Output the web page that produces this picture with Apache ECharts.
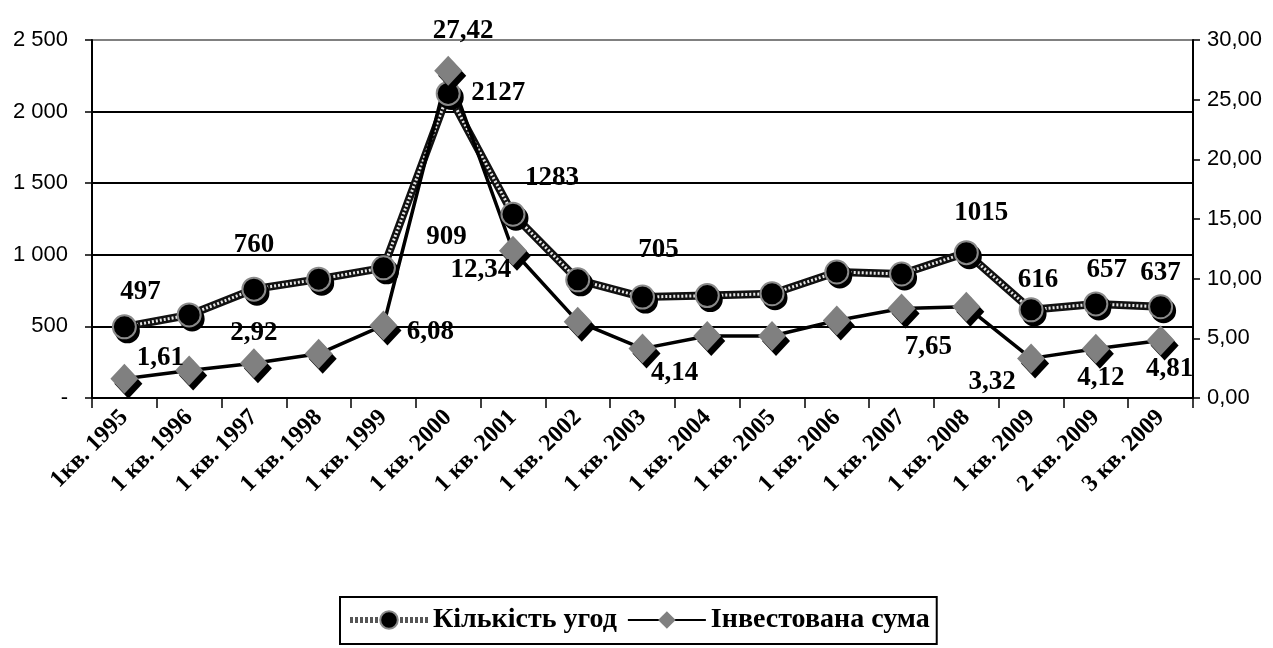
<!DOCTYPE html>
<html><head><meta charset="utf-8">
<script src="https://cdn.jsdelivr.net/npm/echarts@6/dist/echarts.min.js"></script>
<style>html,body{margin:0;padding:0;background:#fff}#c{width:1273px;height:648px}</style>
</head><body><div id="c"></div>
<script>
const categories = ['1кв. 1995','1 кв. 1996','1 кв. 1997','1 кв. 1998','1 кв. 1999','1 кв. 2000','1 кв. 2001','1 кв. 2002','1 кв. 2003','1 кв. 2004','1 кв. 2005','1 кв. 2006','1 кв. 2007','1 кв. 2008','1 кв. 2009','2 кв. 2009','3 кв. 2009'];
const dealsCount = [497,580,760,830,909,2127,1283,825,705,715,728,880,866,1015,616,657,637];
const investedSum = [1.61,2.3,2.92,3.7,6.08,27.42,12.34,6.4,4.14,5.2,5.2,6.5,7.5,7.65,3.32,4.12,4.81];
const leftTicks = [0,500,1000,1500,2000,2500];
const rightTicks = [0,5,10,15,20,25,30];
const seriesNames = ['Кількість угод','Інвестована сума'];
// label placement (pixel offsets from the point), null = no label
const dealsLabelOffset = [[16,-35],null,[0,-44],null,[63,-31],[50,0],[39,-36],null,[16,-47],null,null,null,null,[15,-40],[7,-30],[11,-34],[0,-34]];
const sumLabelOffset = [[36,-21],null,[0,-30],null,[47,7],[15,-40],[-32,19],null,[32,24],null,null,null,null,[-38,40],[-39,24],[5,29],[9,28]];

const labelFont = {fontFamily:'Liberation Serif', fontWeight:'bold', fontSize:27, color:'#000'};
function withLabels(vals, offs, fmt){
  return vals.map((v,i)=>{
    const o = offs[i];
    if(!o) return {value:v, label:{show:false}};
    return {value:v, label:Object.assign({show:true, position:'inside', offset:o, formatter:()=>fmt(v)}, labelFont)};
  });
}
const chart = echarts.init(document.getElementById('c'));
chart.setOption({
  animation:false,
  grid:{left:92, right:80, top:40, bottom:250, containLabel:false},
  xAxis:{type:'category', data:categories, boundaryGap:true,
    axisLine:{lineStyle:{color:'#000', width:2}},
    axisTick:{show:true, length:10, lineStyle:{color:'#000', width:1.5}},
    axisLabel:{interval:0, rotate:45, margin:16, fontFamily:'Liberation Serif', fontWeight:'bold', fontSize:24, color:'#000'}},
  yAxis:[
    {type:'value', min:leftTicks[0], max:leftTicks[leftTicks.length-1], interval:500,
     axisLine:{show:true, lineStyle:{color:'#000', width:2}},
     axisTick:{show:true, length:7, lineStyle:{color:'#000', width:1.5}},
     axisLabel:{fontFamily:'Liberation Sans', fontSize:22, color:'#000', margin:24,
       formatter:v=> v===0 ? '-' : String(v).replace(/\B(?=(\d{3})+(?!\d))/g,' ')},
     splitLine:{show:true, lineStyle:{color:['#000','#000','#000','#000','#000','#808080'], width:2}}},
    {type:'value', min:rightTicks[0], max:rightTicks[rightTicks.length-1], interval:5,
     axisLine:{show:true, lineStyle:{color:'#000', width:2}},
     axisTick:{show:true, length:7, lineStyle:{color:'#000', width:1.5}},
     axisLabel:{fontFamily:'Liberation Sans', fontSize:22, color:'#000', margin:14,
       formatter:v=> v.toFixed(2).replace('.',',')},
     splitLine:{show:false}}
  ],
  legend:{left:340, top:597, orient:'horizontal', padding:[9,7,10,7], itemGap:10,
    borderColor:'#000', borderWidth:2, itemWidth:78, itemHeight:22,
    textStyle:{fontFamily:'Liberation Serif', fontWeight:'bold', fontSize:28, color:'#000'},
    data:[
      {name:seriesNames[0], lineStyle:{opacity:1, color:'#555', width:6, type:[3,2]}, itemStyle:{shadowBlur:0, shadowOffsetX:0, shadowOffsetY:0}},
      {name:seriesNames[1], itemStyle:{shadowBlur:0, shadowOffsetX:0, shadowOffsetY:0}}
    ]},
  series:[
    {name:'_outline', type:'line', yAxisIndex:0, data:dealsCount, symbol:'none', silent:true,
     lineStyle:{color:'#111', width:8}},
    {name:'_pattern', type:'line', yAxisIndex:0, data:dealsCount, symbol:'none', silent:true,
     lineStyle:{color:'#e6e6e6', width:3, type:[2,2]}},
    {name:seriesNames[0], type:'line', yAxisIndex:0, data:withLabels(dealsCount, dealsLabelOffset, v=>String(v)),
     symbol:'circle', symbolSize:23, showAllSymbol:true,
     lineStyle:{opacity:0, width:6, color:'#777'},
     itemStyle:{color:'#000', borderColor:'#8a8a8a', borderWidth:2, shadowColor:'#000', shadowBlur:0, shadowOffsetX:3, shadowOffsetY:4}},
    {name:seriesNames[1], type:'line', yAxisIndex:1, data:withLabels(investedSum, sumLabelOffset, v=>v.toFixed(2).replace('.',',')),
     symbol:'diamond', symbolSize:[28,30], showAllSymbol:true,
     lineStyle:{color:'#000', width:3.5},
     itemStyle:{color:'#808080', borderWidth:0, shadowColor:'#000', shadowBlur:0, shadowOffsetX:4, shadowOffsetY:5}}
  ]
});
</script></body></html>
